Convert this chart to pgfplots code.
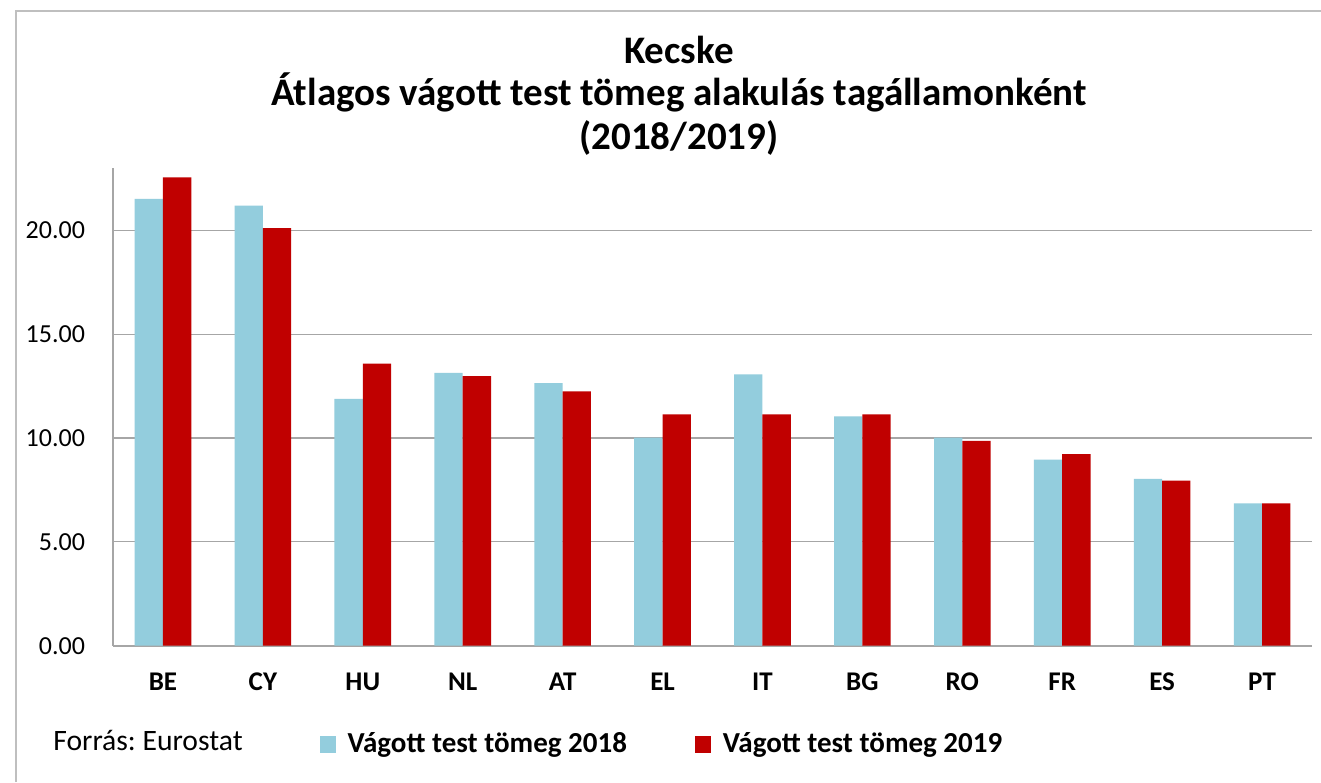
\documentclass[border=0pt]{standalone}
\usepackage{fontspec}
\setmainfont{Carlito}
\usepackage{pgfplots}
\pgfplotsset{compat=1.18}
\definecolor{blue18}{HTML}{93CDDD}
\definecolor{red19}{HTML}{C00000}
\definecolor{gridgray}{HTML}{A6A6A6}
\definecolor{framegray}{HTML}{BFBFBF}
\frenchspacing
\begin{document}
\begin{tikzpicture}
\path[use as bounding box] (0pt,0pt) rectangle (660.5pt,-391pt);
\fill[white] (0pt,0pt) rectangle (660.5pt,-391pt);
\draw[framegray, line width=1.2pt] (8pt,-391pt) -- (8pt,-5.5pt) -- (661pt,-5.5pt);
\node[anchor=base, font=\fontsize{19.5}{22}\selectfont\bfseries] at (339.5pt,-31.5pt) {Kecske};
\node[anchor=base, font=\fontsize{19.5}{22}\selectfont\bfseries] at (339.5pt,-52.5pt) {Átlagos vágott test tömeg alakulás tagállamonként};
\node[anchor=base, font=\fontsize{19.5}{22}\selectfont\bfseries] at (339.5pt,-74.5pt) {(2018/2019)};
\node[anchor=base west, inner sep=0pt, font=\fontsize{14.8}{17}\selectfont] at (26.5pt,-375pt) {Forrás: Eurostat};
\begin{axis}[
  at={(56.5pt,-322.85pt)}, anchor=south west,
  scale only axis, width=599.5pt, height=238.85pt,
  ybar=0pt, bar width=14.15pt,
  xmin=-0.5, xmax=11.5, ymin=0, ymax=23,
  xtick={0,...,11},
  xticklabels={BE,CY,HU,NL,AT,EL,IT,BG,RO,FR,ES,PT},
  ytick={0,5,10,15,20},
  major tick length=0pt,
  axis x line*=bottom, axis y line*=left,
  axis line style={gridgray, line width=0.8pt, -},
  ymajorgrids, grid style={gridgray, line width=0.6pt},
  yticklabel style={font=\fontsize{13}{15}\selectfont, xshift=-10.5pt},
  xticklabel style={font=\fontsize{13.5}{15}\selectfont\bfseries, yshift=-10pt},
  /pgf/number format/assume math mode=true,
  yticklabel={\pgfmathprintnumber[fixed,precision=2,zerofill]{\tick}},
  legend style={at={(0.172,-0.206)}, anchor=west, draw=none, fill=none,
    font=\fontsize{14.5}{17}\selectfont\bfseries, inner sep=0pt,
    /tikz/every odd column/.append style={column sep=4pt},
    /tikz/every even column/.append style={column sep=32pt}},
  legend columns=2,
  legend image code/.code={\fill[#1] (0pt,-4.25pt) rectangle (8pt,4.25pt);},
]
\addplot[fill=blue18, draw=none] coordinates {
 (0,21.51) (1,21.19) (2,11.89) (3,13.14) (4,12.64) (5,10.02)
 (6,13.06) (7,11.04) (8,10.02) (9,8.96) (10,8.03) (11,6.85)};
\addplot[fill=red19, draw=none] coordinates {
 (0,22.55) (1,20.10) (2,13.58) (3,12.98) (4,12.25) (5,11.14)
 (6,11.14) (7,11.14) (8,9.86) (9,9.22) (10,7.95) (11,6.85)};
\legend{Vágott test tömeg 2018, Vágott test tömeg 2019}
\end{axis}
\end{tikzpicture}
\end{document}
